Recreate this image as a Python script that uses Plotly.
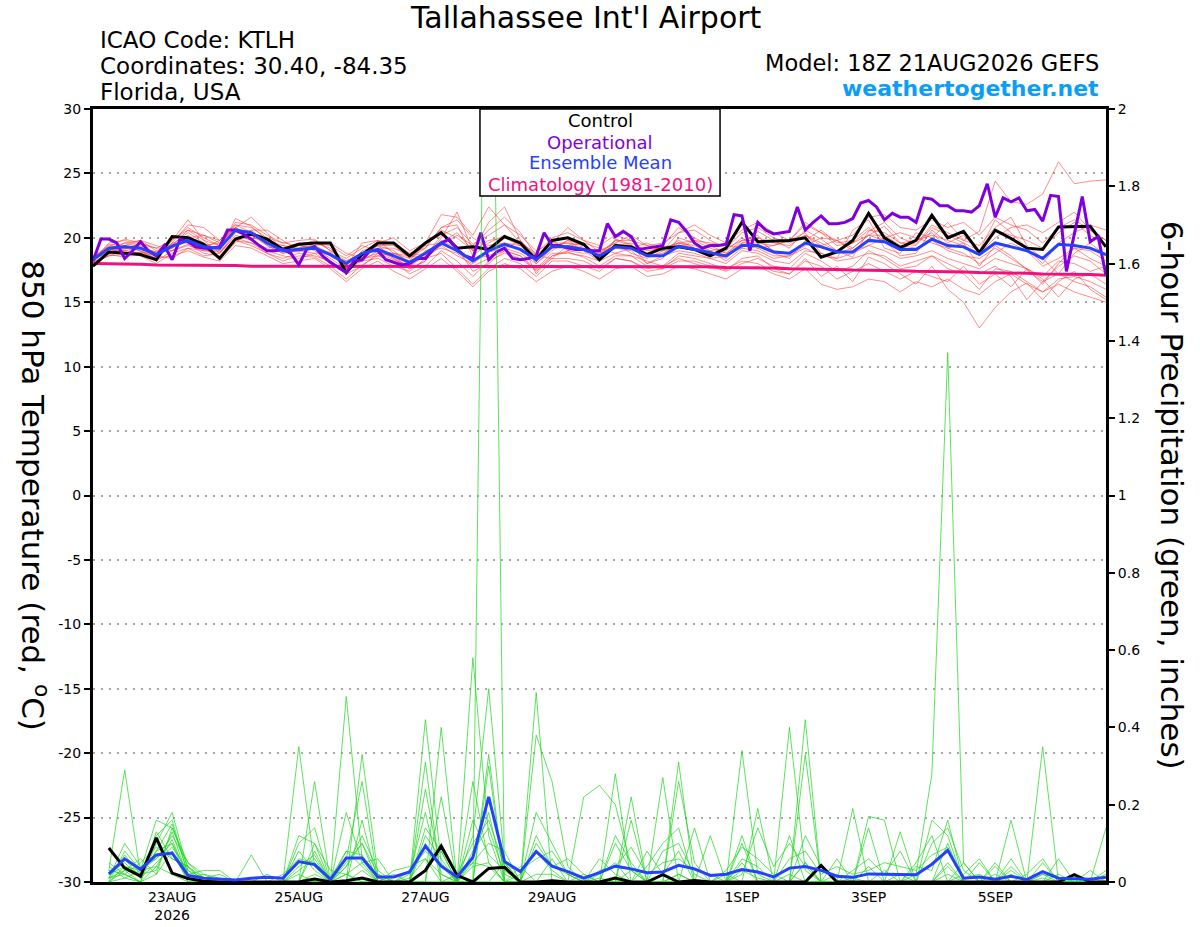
import pandas as pd
import plotly.graph_objects as go

# GEFS 18Z 21AUG2026 run, 6-hourly output (operational GFS is 3-hourly)
times = pd.date_range("2026-08-21 18:00", periods=65, freq="6h")
times_op = pd.date_range("2026-08-21 18:00", periods=129, freq="3h")
precip_times = times[1:]

# ---- 850 hPa temperature (deg C) ----
control_t = [17.8, 18.9, 18.8, 18.7, 18.3, 20.1, 20.0, 19.5, 18.4, 19.9, 20.3, 19.9, 19.1, 19.5, 19.6, 19.6,
             17.3, 18.7, 19.6, 19.6, 18.6, 19.6, 20.4, 19.2, 19.3, 19.1, 20.1, 19.6, 18.3, 19.8, 20.0, 19.5,
             18.3, 19.4, 19.3, 18.7, 19.2, 19.3, 19.1, 18.6, 19.2, 21.2, 19.7, 19.75, 19.8, 20.0, 18.5, 18.9,
             19.8, 21.9, 20.0, 19.25, 19.8, 21.75, 20.0, 20.5, 18.85, 20.6, 19.95, 19.2, 19.1, 20.85, 20.9, 20.9,
             19.3]

operational_t = [18.2, 19.9, 19.9, 19.6, 18.4, 19.0, 19.7, 19.0, 18.6, 19.4, 18.3, 19.9, 19.7, 19.3, 19.2, 19.2,
                 19.3, 20.6, 20.6, 20.3, 19.9, 19.4, 19.0, 19.0, 19.1, 18.8, 17.9, 19.1, 19.3, 18.6, 18.1, 17.7,
                 17.3, 18.2, 18.3, 19.0, 19.0, 18.3, 18.1, 17.9, 18.0, 18.4, 18.4, 19.1, 19.6, 19.9,
                 19.1, 18.6, 18.4, 20.4, 18.3, 18.9, 19.2, 18.4, 18.3, 18.4, 18.6, 20.4, 19.4, 19.4, 19.2, 19.1,
                 19.1, 19.0, 19.0, 21.1, 20.1, 20.5, 20.1, 19.1, 19.2, 19.3, 19.4, 21.4, 21.2, 20.5, 19.6, 19.2,
                 19.4, 19.4, 19.5, 21.8, 21.7, 19.0, 21.2, 20.6, 20.3, 20.4, 20.5,
                 22.4, 20.6, 21.2, 21.7, 21.1, 21.1, 21.2, 21.5, 22.7, 22.9, 22.4, 21.4, 21.9, 21.6, 21.6, 21.2,
                 23.1, 23.0, 22.5, 22.5, 22.1, 22.1, 22.0, 22.5, 24.2, 21.6, 23.1, 22.8, 23.1, 22.1, 22.2, 21.3,
                 23.3, 23.2, 17.4, 20.2, 23.2, 19.7, 20.1, 17.1]

mean_t = [18.3, 19.2, 19.3, 19.2, 18.7, 19.35, 19.8, 19.3, 19.2, 20.6, 20.4, 19.6, 19.0, 19.1, 19.2, 18.7,
          18.0, 18.8, 19.1, 18.6, 18.1, 18.8, 19.6, 19.0, 18.2, 19.0, 19.5, 19.1, 18.3, 19.3, 19.3, 19.1,
          18.6, 19.3, 19.2, 18.6, 18.6, 19.35, 19.1, 18.8, 18.6, 19.4, 19.4, 18.9, 18.8, 19.6, 19.3, 18.9,
          18.9, 19.8, 19.7, 19.1, 19.1, 19.9, 19.4, 19.3, 18.7, 19.6, 19.3, 19.0, 18.4, 19.5, 19.4, 19.2,
          18.7]

climo_t = [18.0, 18.0, 17.95, 17.95, 17.9, 17.9, 17.9, 17.85, 17.85, 17.85, 17.8, 17.8, 17.8, 17.8, 17.8, 17.8,
           17.8, 17.8, 17.8, 17.8, 17.8, 17.8, 17.8, 17.8, 17.8, 17.8, 17.8, 17.8, 17.8, 17.8, 17.8, 17.8,
           17.8, 17.8, 17.8, 17.8, 17.8, 17.75, 17.75, 17.75, 17.7, 17.7, 17.65, 17.65, 17.6, 17.6, 17.55, 17.55,
           17.5, 17.5, 17.45, 17.45, 17.4, 17.4, 17.35, 17.35, 17.3, 17.3, 17.25, 17.25, 17.2, 17.2, 17.15, 17.15,
           17.1]

# ensemble members (temperature)
t_m01 = [18.2, 19.0, 19.6, 19.8, 19.0, 19.5, 20.4, 19.6, 19.0, 21.5, 20.9, 19.8, 19.2,
         19.5, 19.0, 18.2, 17.4, 18.6, 19.4, 19.0, 18.0, 18.5, 20.2, 20.8, 19.5, 20.2,
         21.0, 19.6, 18.0, 19.0, 19.8, 19.0, 18.2, 19.9, 19.5, 18.0, 18.4, 20.0, 19.6,
         19.0, 18.2, 19.2, 20.5, 19.8, 19.2, 20.6, 19.9, 19.0, 18.5, 20.5, 21.2, 20.0,
         19.5, 21.0, 20.4, 19.8, 20.5, 24.4, 22.8, 22.6, 23.4, 25.9, 24.2, 24.4, 24.5]
t_m02 = [18.0, 18.6, 19.0, 18.8, 18.2, 19.0, 19.5, 18.8, 18.6, 19.8, 19.6, 18.8, 18.2,
         18.6, 18.5, 17.8, 16.8, 17.9, 18.6, 18.2, 17.2, 17.8, 19.0, 18.2, 17.0, 18.2,
         18.8, 18.4, 17.5, 18.6, 18.9, 18.5, 17.8, 18.6, 18.6, 17.8, 17.6, 18.6, 18.4,
         18.0, 17.5, 18.4, 18.6, 17.6, 17.2, 18.4, 17.0, 17.8, 16.6, 18.5, 18.0, 17.2,
         16.4, 17.8, 16.0, 15.0, 13.0, 14.6, 15.8, 16.5, 15.2, 16.6, 17.4, 16.0, 15.2]
t_m03 = [18.4, 19.4, 19.2, 19.5, 19.2, 19.8, 20.8, 20.0, 19.4, 21.2, 21.0, 20.2, 19.6,
         19.8, 19.9, 19.0, 18.4, 19.2, 19.8, 19.6, 18.8, 19.2, 20.8, 21.0, 18.6, 19.6,
         20.2, 19.6, 18.8, 20.0, 20.4, 19.8, 18.9, 19.6, 20.2, 19.4, 19.0, 20.4, 20.6,
         19.8, 19.2, 20.4, 20.8, 20.0, 19.6, 20.2, 19.4, 19.8, 19.2, 20.2, 20.9, 19.6,
         19.8, 20.4, 19.2, 19.6, 17.8, 19.4, 18.6, 17.5, 16.6, 17.8, 18.6, 18.2, 17.2]
t_m04 = [18.1, 18.8, 19.4, 19.0, 18.4, 19.6, 21.0, 20.8, 19.8, 20.8, 21.6, 20.4, 19.0,
         18.9, 19.6, 19.2, 17.8, 18.2, 19.0, 18.4, 17.6, 18.2, 20.0, 22.0, 19.0, 21.2,
         22.4, 19.8, 17.2, 18.6, 19.0, 19.4, 18.6, 19.8, 19.8, 18.8, 19.4, 20.8, 20.0,
         19.4, 18.8, 19.8, 20.2, 18.8, 18.4, 19.8, 20.6, 19.6, 19.8, 20.8, 19.8, 18.6,
         18.8, 20.6, 19.6, 20.2, 19.0, 21.4, 20.4, 19.2, 18.0, 19.6, 20.4, 21.0, 20.6]
t_m05 = [18.3, 19.2, 18.8, 18.6, 18.0, 18.8, 19.2, 18.6, 18.8, 20.2, 19.8, 19.0, 18.6,
         18.4, 18.8, 18.0, 17.6, 18.2, 18.4, 17.8, 17.4, 18.4, 18.8, 17.6, 16.4, 17.6,
         18.4, 18.0, 17.0, 18.2, 18.2, 17.8, 17.4, 18.4, 18.2, 17.6, 17.8, 18.4, 18.0,
         17.6, 17.6, 18.2, 18.0, 17.4, 17.2, 18.2, 17.8, 16.8, 17.4, 18.0, 17.4, 16.8,
         17.4, 17.0, 16.6, 17.8, 16.4, 17.2, 16.2, 17.6, 16.8, 15.4, 16.8, 17.2, 16.4]
t_m06 = [18.2, 19.6, 19.8, 19.4, 18.8, 19.2, 20.2, 19.4, 19.6, 20.8, 20.2, 19.4, 18.8,
         19.2, 19.4, 18.6, 17.8, 19.6, 19.8, 18.8, 18.4, 19.4, 19.6, 19.0, 18.4, 18.6,
         19.2, 19.8, 18.6, 19.8, 19.0, 18.8, 19.0, 19.6, 18.8, 18.4, 19.0, 19.8, 19.2,
         18.6, 19.0, 20.0, 19.2, 19.4, 19.8, 20.4, 18.8, 18.4, 20.6, 21.4, 19.2, 18.8,
         20.4, 20.0, 21.2, 19.8, 19.4, 20.8, 21.6, 19.4, 18.4, 17.2, 18.8, 19.6, 18.6]
t_m07 = [18.5, 19.1, 19.0, 19.2, 18.9, 19.0, 19.4, 19.0, 19.0, 20.0, 19.6, 19.2, 19.4,
         19.0, 18.8, 18.9, 17.8, 18.4, 18.8, 18.3, 17.8, 19.0, 19.4, 18.6, 18.0, 18.9,
         19.2, 18.8, 18.0, 19.2, 19.4, 19.2, 18.4, 19.2, 19.0, 18.0, 18.6, 19.0, 18.8,
         18.4, 18.6, 19.4, 19.2, 18.6, 18.6, 19.2, 18.6, 18.4, 18.8, 19.4, 19.0, 18.4,
         18.6, 19.0, 18.4, 18.0, 17.6, 18.4, 18.0, 17.6, 17.0, 18.2, 18.0, 17.4, 17.8]
t_m08 = [18.6, 19.3, 19.9, 19.6, 18.6, 19.8, 21.4, 19.8, 18.8, 20.4, 20.6, 19.6, 19.2,
         19.6, 19.4, 18.8, 17.6, 19.0, 19.4, 18.4, 17.8, 18.6, 19.6, 20.4, 19.0, 19.4,
         19.6, 19.0, 18.4, 19.4, 19.6, 19.4, 18.6, 19.2, 19.4, 18.6, 18.8, 19.6, 19.4,
         18.8, 18.4, 19.6, 19.6, 19.4, 19.8, 21.2, 20.4, 19.4, 19.6, 20.2, 20.2, 19.4,
         19.2, 19.8, 19.0, 18.6, 18.4, 19.2, 18.4, 17.6, 16.4, 18.0, 19.2, 18.4, 17.8]
t_m09 = [18.0, 18.9, 19.2, 19.0, 18.6, 19.6, 19.6, 19.2, 19.8, 21.0, 20.4, 19.4, 18.8,
         19.0, 19.2, 18.6, 18.2, 18.8, 19.2, 19.2, 18.6, 18.8, 19.2, 18.8, 17.8, 18.4,
         19.0, 18.6, 17.6, 18.8, 18.8, 18.6, 18.2, 18.8, 18.6, 18.2, 17.8, 18.8, 18.6,
         18.4, 18.0, 19.0, 18.8, 18.2, 18.0, 19.0, 18.8, 18.2, 18.4, 18.8, 18.6, 17.8,
         18.2, 18.6, 18.0, 17.4, 17.2, 17.8, 17.0, 15.2, 16.6, 17.2, 16.6, 16.2, 15.4]
t_m10 = [18.4, 19.5, 19.4, 19.8, 19.4, 19.0, 20.0, 20.2, 19.6, 20.8, 20.0, 19.8, 19.4,
         19.2, 19.6, 19.4, 18.6, 19.4, 19.0, 18.8, 18.2, 19.6, 20.6, 20.0, 19.0, 19.8,
         20.0, 19.4, 18.2, 19.6, 19.6, 19.0, 18.8, 19.8, 19.4, 18.8, 19.2, 19.6, 19.2,
         19.0, 19.2, 19.8, 19.8, 19.0, 18.8, 19.6, 19.4, 18.8, 19.2, 20.2, 19.8, 19.0,
         19.8, 20.2, 19.8, 19.4, 18.8, 20.0, 20.8, 21.0, 20.4, 21.2, 22.0, 20.6, 19.8]
t_m11 = [18.3, 19.0, 19.4, 19.2, 18.9, 19.4, 20.6, 20.2, 19.8, 21.0, 20.8, 20.0, 19.6,
         19.4, 19.8, 19.0, 18.2, 18.8, 19.6, 20.0, 19.0, 19.6, 21.8, 21.6, 20.2, 22.4,
         21.0, 20.2, 19.0, 19.6, 20.8, 19.8, 19.4, 20.2, 19.8, 19.4, 19.6, 20.4, 21.0,
         20.2, 19.6, 20.6, 21.2, 20.4, 19.8, 21.0, 20.4, 19.8, 20.2, 21.6, 21.8, 20.8,
         20.6, 21.4, 20.8, 21.2, 20.2, 21.6, 21.0, 20.6, 19.6, 20.8, 21.4, 20.6, 19.8]
t_m12 = [18.1, 18.6, 18.7, 18.9, 18.4, 18.6, 19.0, 18.5, 18.2, 19.4, 19.2, 18.6, 18.0,
         18.2, 18.4, 17.6, 16.6, 17.6, 18.2, 17.4, 16.8, 17.6, 18.4, 17.4, 16.2, 17.4,
         18.0, 17.6, 16.6, 17.4, 17.8, 17.4, 16.8, 17.6, 17.8, 17.0, 17.2, 17.8, 17.6,
         17.2, 16.8, 17.6, 17.8, 17.2, 16.8, 17.6, 16.4, 16.0, 16.2, 16.8, 16.6, 15.8,
         16.6, 16.2, 16.8, 16.0, 15.6, 16.6, 17.2, 16.4, 15.8, 16.4, 15.8, 15.4, 15.0]
t_m13 = [18.2, 19.2, 19.6, 19.3, 18.8, 19.9, 20.6, 19.8, 19.4, 20.8, 20.2, 19.6, 19.0,
         19.4, 19.2, 18.4, 17.6, 18.6, 19.4, 19.4, 18.4, 19.2, 20.8, 21.4, 20.0, 19.2,
         19.6, 19.4, 18.6, 19.2, 19.8, 19.4, 18.8, 19.4, 19.6, 19.0, 19.2, 19.6, 19.8,
         19.2, 18.8, 19.6, 20.0, 19.6, 19.4, 20.2, 19.6, 19.0, 19.6, 20.6, 20.4, 19.6,
         19.4, 20.8, 20.2, 19.6, 19.0, 20.6, 20.2, 19.8, 19.2, 20.4, 21.2, 20.2, 19.4]
t_m14 = [18.4, 18.8, 19.1, 19.6, 19.2, 19.2, 20.0, 19.2, 18.4, 19.6, 20.6, 20.6, 19.8,
         19.0, 19.4, 19.6, 18.8, 18.4, 18.6, 18.8, 18.6, 18.4, 19.4, 20.2, 19.4, 20.6,
         21.6, 20.4, 18.6, 18.4, 19.4, 19.6, 19.2, 18.8, 19.2, 19.6, 19.0, 19.2, 19.8,
         19.6, 19.4, 19.2, 19.0, 18.4, 18.6, 19.4, 20.0, 19.8, 19.0, 19.4, 20.0, 20.4,
         20.0, 19.6, 19.2, 18.8, 18.0, 18.8, 19.6, 19.0, 17.8, 18.4, 19.2, 19.0, 18.2]
t_m15 = [18.1, 18.7, 18.5, 18.9, 18.6, 18.4, 19.2, 19.0, 18.9, 19.8, 19.4, 18.8, 18.4,
         18.8, 18.6, 18.2, 17.2, 17.8, 18.8, 18.6, 17.6, 18.2, 19.8, 19.2, 17.4, 18.0,
         19.0, 18.6, 17.4, 18.4, 18.4, 18.2, 17.6, 18.4, 18.2, 17.4, 17.6, 18.2, 18.2,
         17.8, 17.4, 18.0, 18.4, 17.8, 17.6, 18.8, 18.2, 17.4, 17.8, 19.0, 18.4, 17.6,
         17.8, 18.6, 17.6, 17.2, 16.0, 17.6, 17.4, 16.6, 15.8, 16.8, 17.0, 16.6, 16.0]

# ---- 6-hour precipitation (inches), from hour 6 ----
control_p = [0.088, 0.036, 0.015, 0.114, 0.023, 0.009, 0.002, 0, 0, 0, 0, 0, 0, 0.008, 0, 0.003,
             0.01, 0, 0, 0, 0.03, 0.093, 0.017, 0, 0.035, 0.038, 0, 0, 0.003, 0, 0, 0,
             0.01, 0, 0, 0.019, 0, 0.004, 0, 0, 0, 0, 0, 0, 0, 0.043, 0, 0,
             0, 0, 0, 0, 0, 0, 0, 0, 0, 0, 0, 0, 0, 0.019, 0, 0]

mean_p = [0.021, 0.060, 0.033, 0.070, 0.075, 0.017, 0.010, 0.007, 0.005, 0.010, 0.012, 0.010, 0.053, 0.045, 0.007, 0.062,
          0.062, 0.013, 0.013, 0.026, 0.093, 0.041, 0.013, 0.064, 0.220, 0.053, 0.027, 0.079, 0.041, 0.027, 0.010, 0.024,
          0.041, 0.034, 0.024, 0.026, 0.043, 0.034, 0.017, 0.020, 0.032, 0.026, 0.013, 0.036, 0.040, 0.030, 0.015, 0.012,
          0.021, 0.020, 0.020, 0.019, 0.046, 0.082, 0.010, 0.013, 0.007, 0.015, 0.006, 0.027, 0.010, 0.009, 0.007, 0.012]

# ensemble members (precipitation)
p_m01 = [0.02, 0.05, 0.01, 0.12, 0.16, 0.02, 0.0, 0.0, 0.0, 0.0, 0.0, 0.0, 0.03, 0.06, 0.0, 0.08,
         0.04, 0.0, 0.0, 0.01, 0.06, 0.02, 0.0, 0.0, 3.15, 0.0, 0.02, 0.08, 0.03, 0.0, 0.0, 0.02,
         0.05, 0.0, 0.0, 0.02, 0.08, 0.0, 0.0, 0.0, 0.03, 0.01, 0.0, 0.0, 0.05, 0.0, 0.0, 0.01,
         0.0, 0.0, 0.02, 0.0, 0.0, 0.04, 0.0, 0.0, 0.0, 0.0, 0.0, 0.01, 0.0, 0.0, 0.0, 0.0]
p_m02 = [0.01, 0.03, 0.06, 0.02, 0.14, 0.05, 0.01, 0.0, 0.0, 0.0, 0.0, 0.0, 0.0, 0.02, 0.0, 0.05,
         0.10, 0.02, 0.0, 0.0, 0.12, 0.06, 0.0, 0.04, 0.05, 0.0, 0.0, 0.12, 0.04, 0.02, 0.0, 0.01,
         0.0, 0.03, 0.0, 0.0, 0.26, 0.05, 0.0, 0.02, 0.0, 0.0, 0.0, 0.02, 0.0, 0.0, 0.0, 0.0,
         0.0, 0.0, 0.0, 0.02, 0.28, 1.37, 0.05, 0.0, 0.02, 0.0, 0.0, 0.0, 0.0, 0.0, 0.01, 0.0]
p_m03 = [0.03, 0.29, 0.02, 0.08, 0.10, 0.0, 0.0, 0.0, 0.0, 0.0, 0.0, 0.0, 0.02, 0.0, 0.0, 0.48,
         0.06, 0.0, 0.0, 0.0, 0.03, 0.08, 0.0, 0.12, 0.50, 0.05, 0.0, 0.02, 0.02, 0.0, 0.0, 0.0,
         0.10, 0.03, 0.0, 0.0, 0.02, 0.0, 0.0, 0.0, 0.34, 0.02, 0.0, 0.0, 0.0, 0.0, 0.0, 0.0,
         0.14, 0.0, 0.0, 0.0, 0.0, 0.05, 0.0, 0.0, 0.0, 0.0, 0.0, 0.35, 0.0, 0.0, 0.0, 0.0]
p_m04 = [0.0, 0.08, 0.03, 0.16, 0.14, 0.04, 0.01, 0.0, 0.0, 0.0, 0.0, 0.0, 0.35, 0.04, 0.0, 0.02,
         0.0, 0.0, 0.0, 0.0, 0.42, 0.05, 0.0, 0.58, 0.12, 0.0, 0.0, 0.0, 0.06, 0.0, 0.02, 0.0,
         0.0, 0.22, 0.0, 0.0, 0.0, 0.0, 0.0, 0.0, 0.05, 0.0, 0.0, 0.40, 0.03, 0.0, 0.0, 0.0,
         0.0, 0.0, 0.0, 0.0, 0.0, 0.10, 0.0, 0.0, 0.0, 0.0, 0.0, 0.02, 0.0, 0.0, 0.0, 0.0]
p_m05 = [0.05, 0.02, 0.0, 0.10, 0.18, 0.03, 0.0, 0.0, 0.0, 0.0, 0.0, 0.0, 0.0, 0.26, 0.0, 0.0,
         0.33, 0.02, 0.0, 0.0, 0.0, 0.40, 0.0, 0.0, 0.33, 0.0, 0.0, 0.49, 0.0, 0.0, 0.0, 0.0,
         0.28, 0.0, 0.0, 0.0, 0.31, 0.0, 0.0, 0.0, 0.0, 0.0, 0.0, 0.0, 0.42, 0.0, 0.0, 0.0,
         0.0, 0.0, 0.0, 0.0, 0.0, 0.02, 0.0, 0.0, 0.0, 0.0, 0.0, 0.0, 0.0, 0.0, 0.0, 0.14]
p_m06 = [0.01, 0.10, 0.04, 0.06, 0.12, 0.05, 0.02, 0.0, 0.0, 0.0, 0.0, 0.0, 0.10, 0.14, 0.0, 0.06,
         0.26, 0.0, 0.0, 0.0, 0.31, 0.0, 0.0, 0.0, 0.0, 0.0, 0.0, 0.38, 0.26, 0.04, 0.0, 0.0,
         0.0, 0.0, 0.0, 0.27, 0.0, 0.0, 0.0, 0.0, 0.0, 0.19, 0.0, 0.0, 0.33, 0.0, 0.0, 0.19,
         0.0, 0.0, 0.0, 0.0, 0.16, 0.12, 0.0, 0.0, 0.0, 0.0, 0.0, 0.0, 0.0, 0.0, 0.0, 0.0]
p_m07 = [0.0, 0.04, 0.02, 0.08, 0.15, 0.02, 0.03, 0.03, 0.0, 0.07, 0.0, 0.0, 0.0, 0.08, 0.0, 0.02,
         0.0, 0.0, 0.03, 0.04, 0.06, 0.0, 0.02, 0.05, 0.04, 0.0, 0.0, 0.0, 0.0, 0.0, 0.22, 0.25,
         0.20, 0.04, 0.0, 0.0, 0.0, 0.14, 0.0, 0.0, 0.0, 0.0, 0.0, 0.0, 0.0, 0.0, 0.0, 0.0,
         0.17, 0.16, 0.0, 0.0, 0.0, 0.0, 0.0, 0.0, 0.0, 0.16, 0.0, 0.0, 0.0, 0.0, 0.0, 0.0]
p_m08 = [0.02, 0.06, 0.01, 0.05, 0.09, 0.03, 0.01, 0.02, 0.0, 0.0, 0.0, 0.0, 0.04, 0.07, 0.0, 0.04,
         0.12, 0.03, 0.0, 0.02, 0.18, 0.0, 0.0, 0.08, 0.14, 0.02, 0.0, 0.0, 0.0, 0.0, 0.0, 0.0,
         0.0, 0.16, 0.0, 0.0, 0.02, 0.0, 0.12, 0.0, 0.0, 0.0, 0.0, 0.12, 0.0, 0.0, 0.0, 0.0,
         0.0, 0.0, 0.13, 0.0, 0.0, 0.0, 0.05, 0.0, 0.0, 0.06, 0.0, 0.0, 0.06, 0.0, 0.0, 0.0]
p_m09 = [0.01, 0.02, 0.0, 0.13, 0.06, 0.04, 0.0, 0.0, 0.0, 0.0, 0.0, 0.0, 0.0, 0.0, 0.0, 0.18,
         0.05, 0.0, 0.0, 0.0, 0.0, 0.0, 0.0, 0.06, 0.18, 0.0, 0.0, 0.0, 0.0, 0.0, 0.0, 0.0,
         0.0, 0.0, 0.0, 0.0, 0.0, 0.0, 0.0, 0.0, 0.12, 0.0, 0.0, 0.0, 0.0, 0.0, 0.0, 0.0,
         0.0, 0.0, 0.0, 0.0, 0.0, 0.0, 0.02, 0.06, 0.0, 0.02, 0.0, 0.0, 0.0, 0.0, 0.0, 0.02]
p_m10 = [0.04, 0.01, 0.03, 0.04, 0.11, 0.01, 0.0, 0.0, 0.0, 0.0, 0.0, 0.0, 0.0, 0.0, 0.0, 0.0,
         0.16, 0.0, 0.0, 0.0, 0.0, 0.0, 0.0, 0.0, 0.0, 0.05, 0.0, 0.0, 0.0, 0.0, 0.0, 0.0,
         0.0, 0.0, 0.0, 0.0, 0.0, 0.0, 0.0, 0.0, 0.0, 0.0, 0.0, 0.0, 0.0, 0.0, 0.06, 0.0,
         0.0, 0.0, 0.0, 0.0, 0.0, 0.0, 0.0, 0.0, 0.0, 0.0, 0.0, 0.0, 0.0, 0.0, 0.0, 0.0]
p_m11 = [0.0, 0.03, 0.0, 0.02, 0.08, 0.0, 0.0, 0.0, 0.0, 0.0, 0.0, 0.0, 0.0, 0.0, 0.0, 0.0,
         0.0, 0.0, 0.0, 0.0, 0.0, 0.22, 0.0, 0.26, 0.05, 0.0, 0.0, 0.0, 0.0, 0.0, 0.0, 0.0,
         0.0, 0.0, 0.0, 0.0, 0.0, 0.0, 0.0, 0.0, 0.0, 0.0, 0.0, 0.0, 0.0, 0.0, 0.0, 0.0,
         0.0, 0.0, 0.0, 0.0, 0.0, 0.0, 0.0, 0.0, 0.0, 0.0, 0.0, 0.0, 0.0, 0.0, 0.0, 0.0]
p_m12 = [0.0, 0.01, 0.0, 0.04, 0.02, 0.0, 0.0, 0.0, 0.0, 0.0, 0.0, 0.0, 0.12, 0.10, 0.0, 0.0,
         0.03, 0.0, 0.0, 0.0, 0.10, 0.04, 0.0, 0.0, 0.30, 0.0, 0.04, 0.0, 0.0, 0.0, 0.0, 0.0,
         0.0, 0.0, 0.08, 0.02, 0.0, 0.0, 0.0, 0.0, 0.10, 0.0, 0.0, 0.0, 0.05, 0.0, 0.0, 0.0,
         0.04, 0.0, 0.0, 0.05, 0.12, 0.0, 0.0, 0.0, 0.05, 0.0, 0.0, 0.05, 0.0, 0.0, 0.0, 0.0]
p_m13 = [0.02, 0.04, 0.03, 0.06, 0.10, 0.02, 0.01, 0.0, 0.0, 0.0, 0.0, 0.02, 0.06, 0.05, 0.01, 0.08,
         0.07, 0.01, 0.0, 0.03, 0.08, 0.04, 0.02, 0.10, 0.16, 0.04, 0.03, 0.06, 0.08, 0.02, 0.0, 0.03,
         0.04, 0.09, 0.02, 0.05, 0.06, 0.03, 0.02, 0.0, 0.06, 0.04, 0.0, 0.06, 0.08, 0.02, 0.04, 0.02,
         0.03, 0.05, 0.04, 0.03, 0.07, 0.09, 0.01, 0.02, 0.0, 0.03, 0.0, 0.02, 0.01, 0.0, 0.0, 0.03]
p_m14 = [0.03, 0.02, 0.05, 0.09, 0.06, 0.04, 0.0, 0.0, 0.0, 0.0, 0.02, 0.0, 0.08, 0.03, 0.0, 0.04,
         0.10, 0.0, 0.02, 0.0, 0.14, 0.08, 0.0, 0.05, 0.10, 0.08, 0.0, 0.10, 0.04, 0.06, 0.02, 0.0,
         0.12, 0.05, 0.0, 0.08, 0.10, 0.02, 0.0, 0.03, 0.09, 0.06, 0.02, 0.0, 0.12, 0.04, 0.0, 0.03,
         0.06, 0.02, 0.08, 0.0, 0.10, 0.14, 0.03, 0.0, 0.04, 0.0, 0.02, 0.06, 0.0, 0.02, 0.0, 0.0]
p_m15 = [0.01, 0.07, 0.02, 0.03, 0.13, 0.01, 0.02, 0.01, 0.0, 0.0, 0.0, 0.0, 0.0, 0.10, 0.03, 0.02,
         0.05, 0.06, 0.0, 0.0, 0.24, 0.02, 0.0, 0.16, 0.07, 0.03, 0.0, 0.18, 0.10, 0.02, 0.0, 0.06,
         0.02, 0.0, 0.04, 0.10, 0.14, 0.0, 0.0, 0.0, 0.02, 0.14, 0.04, 0.10, 0.04, 0.0, 0.02, 0.0,
         0.0, 0.03, 0.0, 0.04, 0.03, 0.16, 0.0, 0.05, 0.0, 0.04, 0.0, 0.0, 0.02, 0.0, 0.03, 0.0]

temp_members = [t_m01, t_m02, t_m03, t_m04, t_m05, t_m06, t_m07, t_m08,
                t_m09, t_m10, t_m11, t_m12, t_m13, t_m14, t_m15]
precip_members = [p_m01, p_m02, p_m03, p_m04, p_m05, p_m06, p_m07, p_m08,
                  p_m09, p_m10, p_m11, p_m12, p_m13, p_m14, p_m15]

tick_dates = ["2026-08-23", "2026-08-25", "2026-08-27", "2026-08-29", "2026-09-01", "2026-09-03", "2026-09-05"]
tick_labels = ["23AUG<br>2026", "25AUG", "27AUG", "29AUG", "1SEP", "3SEP", "5SEP"]
temp_ticks = [-30, -25, -20, -15, -10, -5, 0, 5, 10, 15, 20, 25, 30]

FONT = "DejaVu Sans, sans-serif"
PURPLE = "#7F00DD"
BLUE = "#2441FF"
PINK = "#F0117F"

fig = go.Figure()

# temperature ensemble members
for m in temp_members:
    fig.add_trace(go.Scatter(x=times, y=m, mode="lines", yaxis="y",
                             line=dict(color="rgba(255,50,50,0.7)", width=0.8)))

fig.add_trace(go.Scatter(x=times, y=climo_t, mode="lines", yaxis="y", line=dict(color=PINK, width=3)))
fig.add_trace(go.Scatter(x=times, y=control_t, mode="lines", yaxis="y", line=dict(color="black", width=3)))
fig.add_trace(go.Scatter(x=times_op, y=operational_t, mode="lines", yaxis="y", line=dict(color=PURPLE, width=3)))
fig.add_trace(go.Scatter(x=times, y=mean_t, mode="lines", yaxis="y", line=dict(color=BLUE, width=3)))

# precipitation on the right axis
for m in precip_members:
    fig.add_trace(go.Scatter(x=precip_times, y=m, mode="lines", yaxis="y2",
                             line=dict(color="rgba(30,215,30,0.9)", width=0.8)))

fig.add_trace(go.Scatter(x=precip_times, y=control_p, mode="lines", yaxis="y2", line=dict(color="black", width=3)))
fig.add_trace(go.Scatter(x=precip_times, y=mean_p, mode="lines", yaxis="y2", line=dict(color=BLUE, width=3)))

fig.update_layout(
    width=1200, height=927,
    margin=dict(l=93, r=94, t=109, b=45),
    paper_bgcolor="white", plot_bgcolor="white",
    showlegend=False,
    font=dict(family=FONT, color="black", size=14),
    xaxis=dict(type="date", range=["2026-08-21 18:00", "2026-09-06 18:00"],
               tickvals=tick_dates, ticktext=tick_labels, ticks="", automargin=False,
               showgrid=False, zeroline=False, showline=True, linewidth=3, linecolor="black",
               mirror=True, tickfont=dict(size=14)),
    yaxis=dict(range=[-30, 30], tickvals=temp_ticks, ticktext=[str(v) for v in temp_ticks],
               ticks="outside", ticklen=6, tickwidth=1.5, tickcolor="black", automargin=False,
               showgrid=True, gridcolor="#A8A8A8", griddash="2px,6px", gridwidth=1.5,
               zeroline=False, showline=True, linewidth=3, linecolor="black", tickfont=dict(size=14)),
    yaxis2=dict(range=[0, 2], dtick=0.2, overlaying="y", side="right", automargin=False,
                ticks="outside", ticklen=6, tickwidth=1.5, tickcolor="black",
                showgrid=False, zeroline=False, showline=True, linewidth=3, linecolor="black",
                tickfont=dict(size=14)),
)

# legend box
fig.add_shape(type="rect", xref="paper", yref="paper", x0=0.382, x1=0.619, y0=0.8875, y1=1.0,
              fillcolor="white", line=dict(color="black", width=1.5), layer="above")
legend_items = [("Control", "black", 0.9845), ("Operational", PURPLE, 0.9573),
                ("Ensemble Mean", BLUE, 0.9302), ("Climatology (1981-2010)", PINK, 0.902)]
for txt, col, yy in legend_items:
    fig.add_annotation(text=txt, x=0.5005, y=yy, xref="paper", yref="paper", showarrow=False,
                       font=dict(size=18, color=col, family=FONT), xanchor="center", yanchor="middle")

# header texts
fig.add_annotation(text="Tallahassee Int'l Airport", x=0.4866, y=1.118, xref="paper", yref="paper",
                   showarrow=False, font=dict(size=30, family=FONT), xanchor="center", yanchor="middle")
for txt, yy in [("ICAO Code: KTLH", 1.089), ("Coordinates: 30.40, -84.35", 1.056), ("Florida, USA", 1.022)]:
    fig.add_annotation(text=txt, x=0.005, y=yy, xref="paper", yref="paper", showarrow=False,
                       font=dict(size=23, family=FONT), xanchor="left", yanchor="middle")
fig.add_annotation(text="Model: 18Z 21AUG2026 GEFS", x=0.995, y=1.060, xref="paper", yref="paper",
                   showarrow=False, font=dict(size=22.5, family=FONT), xanchor="right", yanchor="middle")
fig.add_annotation(text="<b>weathertogether.net</b>", x=0.995, y=1.026, xref="paper", yref="paper",
                   showarrow=False, font=dict(size=22, family=FONT, color="#0A9EF5"),
                   xanchor="right", yanchor="middle")

# axis titles (both read top to bottom)
fig.add_annotation(text="850 hPa Temperature (red, <sup>o</sup>C)", x=-0.057, y=0.5, xref="paper", yref="paper",
                   showarrow=False, textangle=90, font=dict(size=31, family=FONT),
                   xanchor="center", yanchor="middle")
fig.add_annotation(text="6-hour Precipitation (green, inches)", x=1.066, y=0.5, xref="paper", yref="paper",
                   showarrow=False, textangle=90, font=dict(size=31, family=FONT),
                   xanchor="center", yanchor="middle")

# drop the page's default body margin so the figure sits at the window corner
fig.write_html("out.html", config={"displayModeBar": False},
               post_script="document.body.style.margin='0';")
